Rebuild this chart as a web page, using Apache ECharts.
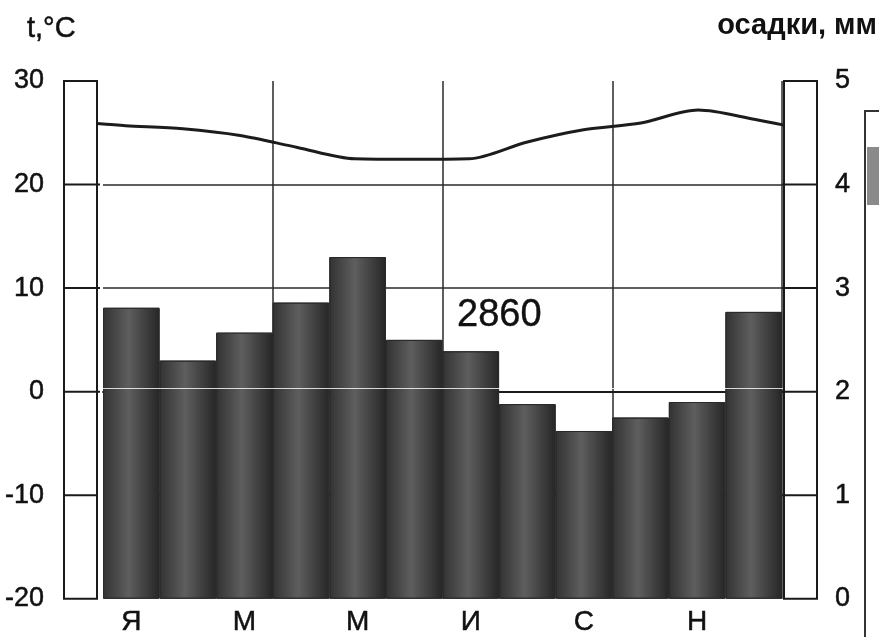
<!DOCTYPE html>
<html>
<head>
<meta charset="utf-8">
<script src="https://cdn.jsdelivr.net/npm/echarts@6/dist/echarts.min.js"></script>
<style>
  html, body { margin: 0; padding: 0; background: #fff; }
  #chart { width: 879px; height: 637px; }
</style>
</head>
<body>
<div id="chart"></div>
<script>
// данные климатограммы
var months = ['Я', 'Ф', 'М', 'А', 'М', 'И', 'И', 'А', 'С', 'О', 'Н', 'Д'];
var precip = [281, 230, 257, 286, 330, 250, 239, 188, 162, 175, 190, 277]; // мм
var temp = [25.7, 25.4, 24.75, 23.6, 22.5, 22.45, 22.5, 24.1, 25.3, 25.95, 27.2, 26.3]; // °C
var tempYearEdges = [25.9, 25.75]; // на начало и конец года
var tempTicks = [-20, -10, 0, 10, 20, 30];
var precipTicks = [0, 1, 2, 3, 4, 5]; // сотни мм
var annualTotal = '2860';

var FONT = '"Liberation Sans", Arial, sans-serif';
var GRID = { left: 103, right: 97, top: 81, bottom: 37 };
var W = 879;

var chart = echarts.init(document.getElementById('chart'));

// линия температуры от края до края года
var lineData = [[0, tempYearEdges[0]]];
temp.forEach(function (t, i) { lineData.push([i + 0.5, t]); });
lineData.push([months.length, tempYearEdges[1]]);

var labelStyle = { color: '#111', fontSize: 27, fontFamily: FONT, textBorderColor: '#111', textBorderWidth: 0.5 };

var option = {
    backgroundColor: '#fff',
    animation: false,
    grid: [
        { left: GRID.left, right: GRID.right, top: GRID.top, bottom: GRID.bottom },
        { left: GRID.left - 6, right: GRID.right - 2, top: GRID.top, bottom: GRID.bottom }
    ],
    xAxis: [{
        type: 'category',
        gridIndex: 0,
        data: months,
        axisLine: { lineStyle: { color: '#1a1a1a', width: 2 } },
        axisTick: { show: false },
        axisLabel: Object.assign({}, labelStyle, { interval: 1, margin: 10, fontSize: 28 }),
        splitLine: {
            show: true,
            interval: function (i) { return i > 0 && i % 3 === 0; },
            lineStyle: { color: '#2a2a2a', width: 1.5 }
        }
    }, {
        type: 'value', gridIndex: 1, min: 0, max: months.length, show: false
    }],
    yAxis: [{
        type: 'value',
        gridIndex: 0,
        min: tempTicks[0],
        max: tempTicks[tempTicks.length - 1],
        interval: 10,
        axisLine: { show: false },
        axisTick: { show: false },
        axisLabel: Object.assign({ margin: 59 }, labelStyle),
        splitLine: {
            show: true, showMinLine: false, showMaxLine: false,
            lineStyle: { color: '#2a2a2a', width: 1.5 }
        }
    }, {
        type: 'value',
        gridIndex: 0,
        position: 'right',
        min: precipTicks[0] * 100,
        max: precipTicks[precipTicks.length - 1] * 100,
        interval: 100,
        axisLine: { show: false },
        axisTick: { show: false },
        splitLine: { show: false },
        axisLabel: Object.assign({ margin: 53, formatter: function (v) { return v / 100; } }, labelStyle)
    }, {
        type: 'value', gridIndex: 1,
        min: tempTicks[0], max: tempTicks[tempTicks.length - 1], show: false
    }],
    series: [{
        name: 'осадки',
        type: 'bar',
        xAxisIndex: 0,
        yAxisIndex: 1,
        data: precip,
        barCategoryGap: '0%',
        itemStyle: {
            color: new echarts.graphic.LinearGradient(0, 0, 1, 0, [
                { offset: 0, color: '#323232' },
                { offset: 0.45, color: '#5e5e5e' },
                { offset: 1, color: '#262626' }
            ]),
            borderColor: '#2a2a2a',
            borderWidth: 1
        }
    }, {
        name: 't',
        type: 'line',
        xAxisIndex: 1,
        yAxisIndex: 2,
        data: lineData,
        smooth: 0.3,
        symbol: 'none',
        z: 4,
        lineStyle: { color: '#1c1c1c', width: 3 },
        markLine: {
            silent: true,
            symbol: 'none',
            label: { show: false },
            lineStyle: { color: 'rgba(255,255,255,0.8)', width: 1.2, type: 'solid' },
            data: [{ yAxis: 0.4 }]
        }
    }]
};

chart.setOption(option);

// рамки-столбики по краям и подписи
function py(v) { return chart.convertToPixel({ yAxisIndex: 0 }, v); }
var yTop = py(tempTicks[tempTicks.length - 1]);
var yBot = py(tempTicks[0]);
var gl = GRID.left, gr = W - GRID.right;
var g = [];

g.push({ type: 'rect', z: 10, shape: { x: gl - 39, y: yTop, width: 33, height: yBot - yTop },
    style: { fill: '#fff', stroke: '#1a1a1a', lineWidth: 2 } });
g.push({ type: 'rect', z: 10, shape: { x: gr + 2, y: yTop, width: 33, height: yBot - yTop },
    style: { fill: '#fff', stroke: '#1a1a1a', lineWidth: 2 } });

tempTicks.slice(1, -1).forEach(function (v) {
    var y = py(v);
    g.push({ type: 'line', z: 11, shape: { x1: gl - 39, y1: y, x2: v >= 0 ? gl - 3 : gl - 6, y2: y },
        style: { stroke: '#1a1a1a', lineWidth: 2 } });
    g.push({ type: 'line', z: 11, shape: { x1: gr, y1: y, x2: gr + 35, y2: y },
        style: { stroke: '#1a1a1a', lineWidth: 2 } });
});

// край соседнего рисунка
g.push({ type: 'rect', z: 10, shape: { x: 865, y: 111, width: 40, height: 560 },
    style: { fill: 'none', stroke: '#333', lineWidth: 2 } });
g.push({ type: 'rect', z: 10, shape: { x: 867, y: 147, width: 12, height: 58 },
    style: { fill: '#8a8a8a' } });

g.push({ type: 'text', z: 12, x: 27, y: 29,
    style: { text: 't,°C', font: '29px ' + FONT, fill: '#111', stroke: '#111', lineWidth: 0.5,
        align: 'left', verticalAlign: 'middle', textAlign: 'left', textVerticalAlign: 'middle' } });
g.push({ type: 'text', z: 12, x: 877, y: 26,
    style: { text: 'осадки, мм', font: 'bold 29px ' + FONT, fill: '#111', align: 'right', verticalAlign: 'middle',
        textAlign: 'right', textVerticalAlign: 'middle' } });
g.push({ type: 'text', z: 12, x: 457, y: 316,
    style: { text: annualTotal, font: '38px ' + FONT, fill: '#111', stroke: '#111', lineWidth: 0.4,
        align: 'left', verticalAlign: 'middle', textAlign: 'left', textVerticalAlign: 'middle' } });

chart.setOption({ graphic: g });
</script>
</body>
</html>
